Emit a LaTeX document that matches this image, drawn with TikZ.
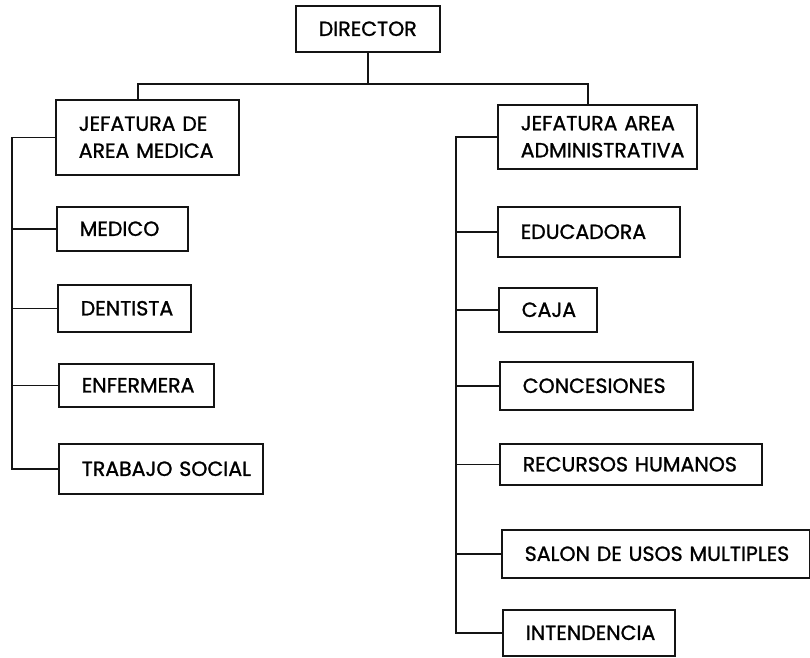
\documentclass[tikz,border=0pt]{standalone}
\usepackage{fontspec}
\setmainfont{Poppins}
\newfontfamily\orgfont{Poppins}[FakeBold=1.2]
\usepackage{tikz}
\def\boxedge{1.5}
\definecolor{edgeblack}{rgb}{0.08,0.08,0.08}
\tikzset{
  unit/.style={draw=edgeblack, line width=\boxedge, anchor=north west, align=left,
    inner xsep=23pt, inner ysep=0pt, font=\orgfont\fontsize{20.5}{27}\selectfont},
  link/.style={line width=\boxedge, color=edgeblack}
}
\begin{document}
\begin{tikzpicture}[x = 1pt, y = -1pt]
            \useasboundingbox (0,0) rectangle (810,657);

            \node[unit, text width=98, minimum height=46] (director) at (295,5) {\mbox{DIRECTOR}};

            % area medica
            \node[unit, text width=137, minimum height=75] (jefmed) at (55,99) {\mbox{JEFATURA DE}\\\mbox{AREA MEDICA}};
            \node[unit, text width=85, minimum height=44] (medico) at (56,206) {\mbox{MEDICO}};
            \node[unit, text width=87, minimum height=47] (dentista) at (57,284) {\mbox{DENTISTA}};
            \node[unit, text width=109, minimum height=43] (enfermera) at (58,363) {\mbox{ENFERMERA}};
            \node[unit, text width=158, minimum height=50] (trabajo) at (58,443) {\mbox{TRABAJO SOCIAL}};

            % area administrativa
            \node[unit, text width=153, minimum height=64] (jefadm) at (497,104) {\mbox{JEFATURA AREA}\\\mbox{ADMINISTRATIVA}};
            \node[unit, text width=136, minimum height=50] (educadora) at (497,206) {\mbox{EDUCADORA}};
            \node[unit, text width=52, minimum height=44] (caja) at (498,287) {\mbox{CAJA}};
            \node[unit, text width=147, minimum height=48] (concesiones) at (499,361) {\mbox{CONCESIONES}};
            \node[unit, text width=216, minimum height=41] (recursos) at (499,443) {\mbox{RECURSOS HUMANOS}};
            \node[unit, text width=262, minimum height=48] (salon) at (501,529) {\mbox{SALON DE USOS MULTIPLES}};
            \node[unit, text width=126, minimum height=46] (intendencia) at (502,609) {\mbox{INTENDENCIA}};

            \coordinate (ltop) at (138,84);
            \coordinate (rtop) at (588,84);
            \coordinate (lbus) at (12,0);
            \coordinate (rbus) at (456,0);

            \draw [link] (director.south) -- (director.south |- ltop);
            \draw [link] (jefmed.north -| ltop) -- (ltop) -- (rtop) -- (jefadm.north -| rtop);

            \draw [link] (jefmed.west) -- (jefmed.west -| lbus) -- (trabajo.west -| lbus) -- (trabajo.west);
            \foreach \n in {medico, dentista, enfermera}
              \draw [link] (\n.west) -- (\n.west -| lbus);

            \draw [link] (jefadm.west) -- (jefadm.west -| rbus) -- (intendencia.west -| rbus) -- (intendencia.west);
            \foreach \n in {educadora, caja, concesiones, recursos, salon}
              \draw [link] (\n.west) -- (\n.west -| rbus);

        \end{tikzpicture}
\end{document}
